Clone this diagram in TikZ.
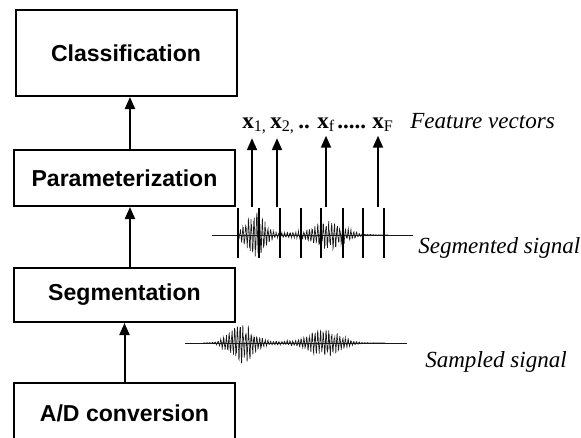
\documentclass[tikz,border=0pt]{standalone}
\usepackage{fontspec}
\setmainfont{Liberation Serif}
\setsansfont{Liberation Sans}
\usetikzlibrary{arrows.meta}
\begin{document}
\begin{tikzpicture}[x=0.75pt,y=-0.75pt,
  box/.style={draw, line width=1.5pt, font=\sffamily\bfseries\fontsize{17.3}{20}\selectfont, minimum width=165.75pt, inner sep=0pt},
  arr/.style={line width=1.5pt, -{Triangle[length=9pt,width=7.5pt]}},
  lab/.style={font=\itshape\fontsize{17.3}{20}\selectfont, anchor=west, inner sep=0pt},
  fv/.style={font=\fontsize{17.3}{20}\selectfont, inner sep=0pt, anchor=base west},
  segline/.style={line width=1.2pt},
  wave/.style={line width=0.5pt, black!90},
  declare function={envA(\t)=22*exp(-((\t-242)/16)^2)+13*exp(-((\t-325)/20)^2)+2*exp(-((\t-300)/45)^2);
                    envB(\t)=25*exp(-((\t-255)/12)^2)+14*exp(-((\t-330)/20)^2)+2.5*exp(-((\t-300)/50)^2);
                    osc(\t)=sin(mod(\t,36)*130);}]
\clip (0,0) rectangle (581,437);
\fill[white] (0,0) rectangle (581,437);
\pgfmathsetseed{7}
% boxes
\node[box, minimum height=64.5pt] (class) at (126,53) {Classification};
\node[box, minimum height=42pt] (param) at (124.5,178) {Parameterization};
\node[box, minimum height=40.5pt] (seg) at (124.5,295) {Segmentation};
\node[box, minimum height=45pt] (ad) at (124.5,413) {A/D conversion};
% chain arrows
\draw[arr] ([xshift=4.1pt]param.north) -- ([xshift=4.1pt]param.north |- class.south);
\draw[arr] ([xshift=4.1pt]seg.north) -- ([xshift=4.1pt]param.south);
\draw[arr] (ad.north) -- (seg.south);
% sampled signal
\coordinate (sampL) at (185,343);
\coordinate (sampR) at (407,343);
\draw[wave, line width=0.4pt] (sampL) -- (sampR);
\draw[wave] plot[domain=203:385, samples=900] (\x, {343 + envA(\x)*osc(\x)*(0.3+0.7*rnd)});
\node[lab] (samplab) at (425,362) {Sampled signal};
% segmented signal
\coordinate (segL) at (212,235);
\coordinate (segR) at (413,235);
\draw[wave, line width=0.4pt] (segL) -- (segR);
\draw[wave] plot[domain=238:388, samples=750] (\x, {235 + envB(\x)*osc(\x)*(0.3+0.7*rnd)});
\foreach \sx in {238,259,280,301,321,343,363,384}
  \draw[segline] (\sx,208) -- (\sx,258);
\node[lab] (seglab) at (418,248) {Segmented signal};
% feature vectors
\node[fv] (x1) at (242,128) {\textbf{x}\textsubscript{1,}};
\node[fv] (x2) at (270,128) {\textbf{x}\textsubscript{2,}};
\node[fv] (d1) at (298,128) {\textbf{..}};
\node[fv] (xf) at (317,128) {\textbf{x}\textsubscript{f}};
\node[fv] (d2) at (337,128) {\textbf{.....}};
\node[fv] (xF) at (372,128) {\textbf{x}\textsubscript{F}};
\node[fv, font=\itshape\fontsize{17.3}{20}\selectfont] (fvlab) at (410,128) {Feature vectors};
\coordinate (f1) at (252,207);
\coordinate (f2) at (277,207);
\coordinate (f3) at (326,207);
\coordinate (f4) at (378,207);
\draw[arr, shorten >=3pt] (f1) -- (f1 |- x1.south);
\draw[arr, shorten >=3pt] (f2) -- (f2 |- x2.south);
\draw[arr, shorten >=3pt] (f3) -- (f3 |- xf.south);
\draw[arr, shorten >=3pt] (f4) -- (f4 |- xF.south);
\end{tikzpicture}
\end{document}
